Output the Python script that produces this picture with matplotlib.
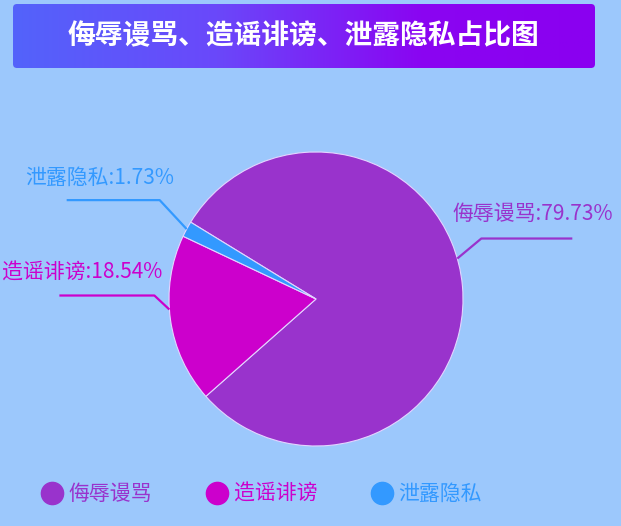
import numpy as np
import matplotlib
matplotlib.use('Agg')
import matplotlib.pyplot as plt
from matplotlib.patches import FancyBboxPatch
from matplotlib.lines import Line2D
from matplotlib.colors import LinearSegmentedColormap

plt.rcParams['font.family'] = ['Noto Sans CJK SC', 'DejaVu Sans']

# dados
title = '侮辱谩骂、造谣诽谤、泄露隐私占比图'
categories = ['侮辱谩骂', '造谣诽谤', '泄露隐私']
percents = [79.73, 18.54, 1.73]
colors = ['#9933cc', '#cc00cc', '#3399ff']

bg = '#9cc8fc'
W, H = 621, 526

fig = plt.figure(figsize=(6.21, 5.26), dpi=100, facecolor=bg)
ax = fig.add_axes([0, 0, 1, 1])
ax.set_facecolor(bg)

# faixa do título com gradiente
banner = FancyBboxPatch((13, H - 68), 582, 64, boxstyle='round,pad=0,rounding_size=4',
                        facecolor='none', edgecolor='none')
ax.add_patch(banner)
cmap = LinearSegmentedColormap.from_list('ban', [(0, '#5363fb'), (0.35, '#6a48fa'), (0.7, '#8a05f2'), (1, '#8a00f0')])
grad = np.linspace(0, 1, 256).reshape(1, -1)
im = ax.imshow(grad, cmap=cmap, aspect='auto', extent=(13, 595, H - 68, H - 4), zorder=1)
im.set_clip_path(banner)
ax.text(303, H - 36, title, color='white', fontsize=20, fontweight='bold',
        ha='center', va='center', zorder=3)

# pizza
cx, cy, R = 316, H - 299, 147
wedges, _ = ax.pie(percents, colors=colors, startangle=148.5, counterclock=False,
                   center=(cx, cy), radius=R,
                   wedgeprops=dict(edgecolor='#e4d4ff', linewidth=0.8))

# rótulos com linhas-guia (deslocamento angular, cotovelo, segmento horizontal, texto)
label_layout = [
    dict(shift=11, elbow=(24, 20), hlen=91, text=(-29, 25), ha='left'),
    dict(shift=-4, elbow=(-15, 14), hlen=-95, text=(8, 23), ha='right'),
    dict(shift=0, elbow=(-27, 29), hlen=-93, text=(15, 22), ha='right'),
]
for w, cat, p, c, lay in zip(wedges, categories, percents, colors, label_layout):
    ang = np.deg2rad((w.theta1 + w.theta2) / 2 + lay['shift'])
    x0, y0 = cx + R * np.cos(ang), cy + R * np.sin(ang)
    x1, y1 = x0 + lay['elbow'][0], y0 + lay['elbow'][1]
    x2 = x1 + lay['hlen']
    ax.plot([x0, x1, x2], [y0, y1, y1], color=c, lw=1.6, zorder=4, solid_capstyle='butt')
    ax.text(x1 + lay['text'][0], y1 + lay['text'][1], f'{cat}:{p:.2f}%', color=c,
            fontsize=15, ha=lay['ha'], va='center', zorder=4)

# legenda
handles = [Line2D([], [], marker='o', ls='', markersize=16, color=c) for c in colors]
leg = ax.legend(handles, categories, ncol=3, loc='center', bbox_to_anchor=(0.42, 32 / H),
                bbox_transform=ax.transAxes, frameon=False, fontsize=15,
                handletextpad=0.2, columnspacing=2.5, handlelength=1.2)
for t, c in zip(leg.get_texts(), colors):
    t.set_color(c)

ax.set_xlim(0, W)
ax.set_ylim(0, H)
ax.set_aspect('auto')
ax.axis('off')

fig.savefig('out.png', dpi=100, facecolor=bg)
